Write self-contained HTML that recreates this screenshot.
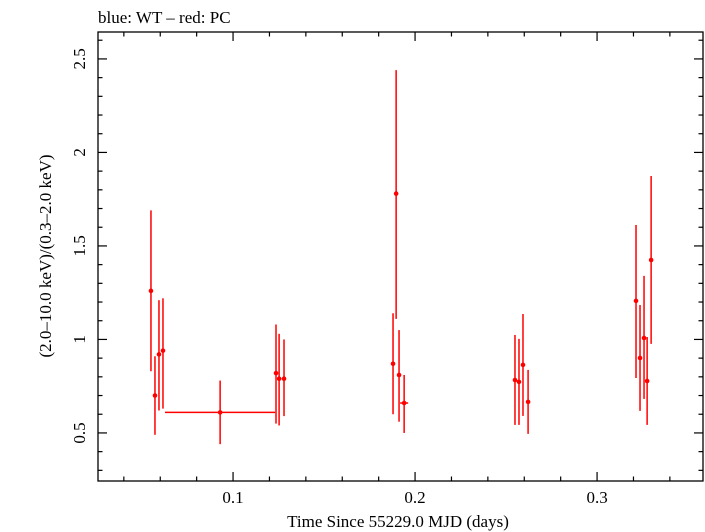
<!DOCTYPE html>
<html><head><meta charset="utf-8"><style>
html,body{margin:0;padding:0;background:#fff;}
svg{display:block;font-family:"Liberation Serif",serif;}
</style></head><body>
<svg id="chart" width="705" height="532" viewBox="0 0 705 532" xmlns="http://www.w3.org/2000/svg">
<text x="98" y="23" font-size="17">blue: WT – red: PC</text>
<g id="axes"></g>
<g id="series"></g>
<text x="398" y="527" font-size="17" text-anchor="middle">Time Since 55229.0 MJD (days)</text>
<text transform="translate(51,256) rotate(-90)" font-size="17" text-anchor="middle">(2.0–10.0 keV)/(0.3–2.0 keV)</text>
</svg>
<script>
const times = [0.0549,0.0571,0.0593,0.0615,0.0929,0.1236,0.1253,0.1280,0.1879,0.1896,0.1912,0.1940,0.2549,0.2571,0.2593,0.2621,0.3214,0.3236,0.3258,0.3275,0.3297];
const timeLo = [0.0549,0.0571,0.0593,0.0615,0.0626,0.1236,0.1253,0.1280,0.1879,0.1896,0.1912,0.1918,0.2549,0.2571,0.2593,0.2610,0.3214,0.3236,0.3258,0.3275,0.3297];
const timeHi = [0.0549,0.0571,0.0593,0.0615,0.1231,0.1236,0.1253,0.1280,0.1879,0.1896,0.1912,0.1962,0.2549,0.2571,0.2593,0.2632,0.3214,0.3236,0.3258,0.3275,0.3297];
const ratios = [1.26,0.70,0.92,0.94,0.61,0.82,0.79,0.79,0.87,1.78,0.81,0.66,0.783,0.773,0.864,0.666,1.206,0.901,1.008,0.778,1.425];
const ratioHi = [1.69,0.91,1.21,1.22,0.78,1.08,1.03,1.00,1.14,2.44,1.05,0.81,1.024,1.003,1.136,0.837,1.612,1.184,1.340,1.013,1.874];
const ratioLo = [0.83,0.49,0.62,0.63,0.44,0.55,0.54,0.59,0.60,1.11,0.56,0.50,0.543,0.543,0.591,0.495,0.794,0.618,0.682,0.543,0.976];
const xTicks = [0.1,0.2,0.3];
const xTickLabels = ["0.1","0.2","0.3"];
const yTicks = [0.5,1,1.5,2,2.5];
const yTickLabels = ["0.5","1","1.5","2","2.5"];

const L=98,R=703,T=32,B=481;
const xMin=0.0258,xMax=0.3582,yMin=0.243,yMax=2.644;
const xs=v=>L+(v-xMin)/(xMax-xMin)*(R-L);
const ys=v=>B-(v-yMin)/(yMax-yMin)*(B-T);
const NS="http://www.w3.org/2000/svg";
function mk(tag,attrs,parent){const e=document.createElementNS(NS,tag);for(const k in attrs)e.setAttribute(k,attrs[k]);parent.appendChild(e);return e;}
const axes=document.getElementById('axes');
const frame=mk('rect',{x:L,y:T,width:R-L,height:B-T,fill:'none',stroke:'#000','stroke-width':1.3},axes);


// x minor ticks every 0.02
for(let i=2;i<=17;i++){const v=i*0.02;const x=xs(v);if(x<L||x>R)continue;
 const major=xTicks.some(t=>Math.abs(t-v)<1e-9);const len=major?9:4.5;
 const t1=mk('line',{x1:x,x2:x,y1:B,y2:B-len,stroke:'#000','stroke-width':1.2},axes);
 
 
 const t2=mk('line',{x1:x,x2:x,y1:T,y2:T+len,stroke:'#000','stroke-width':1.2},axes);
 
 }
xTicks.forEach((v,i)=>{const t=mk('text',{x:xs(v),y:B+22,'font-size':17,'text-anchor':'middle'},axes);t.textContent=xTickLabels[i];
 
 });
for(let i=3;i<=26;i++){const v=i*0.1;const y=ys(v);if(y<T||y>B)continue;
 const major=yTicks.some(t=>Math.abs(t-v)<1e-9);const len=major?9:4.5;
 const t1=mk('line',{x1:L,x2:L+len,y1:y,y2:y,stroke:'#000','stroke-width':1.2},axes);
 
 
 const t2=mk('line',{x1:R,x2:R-len,y1:y,y2:y,stroke:'#000','stroke-width':1.2},axes);
 
 }
yTicks.forEach((v,i)=>{const t=mk('text',{transform:`translate(${L-13},${ys(v)}) rotate(-90)`,'font-size':17,'text-anchor':'middle'},axes);t.textContent=yTickLabels[i];
 
 });
const ser=document.getElementById('series');
times.forEach((t,i)=>{
 const g=mk('g',{},ser);
 
 
 mk('line',{x1:xs(t),x2:xs(t),y1:ys(ratioLo[i]),y2:ys(ratioHi[i]),stroke:'#ff0000','stroke-width':1.5},g);
 mk('line',{x1:xs(timeLo[i]),x2:xs(timeHi[i]),y1:ys(ratios[i]),y2:ys(ratios[i]),stroke:'#ff0000','stroke-width':1.5},g);
 mk('circle',{cx:xs(t),cy:ys(ratios[i]),r:2.3,fill:'#ff0000'},g);
});
</script>
</body></html>
